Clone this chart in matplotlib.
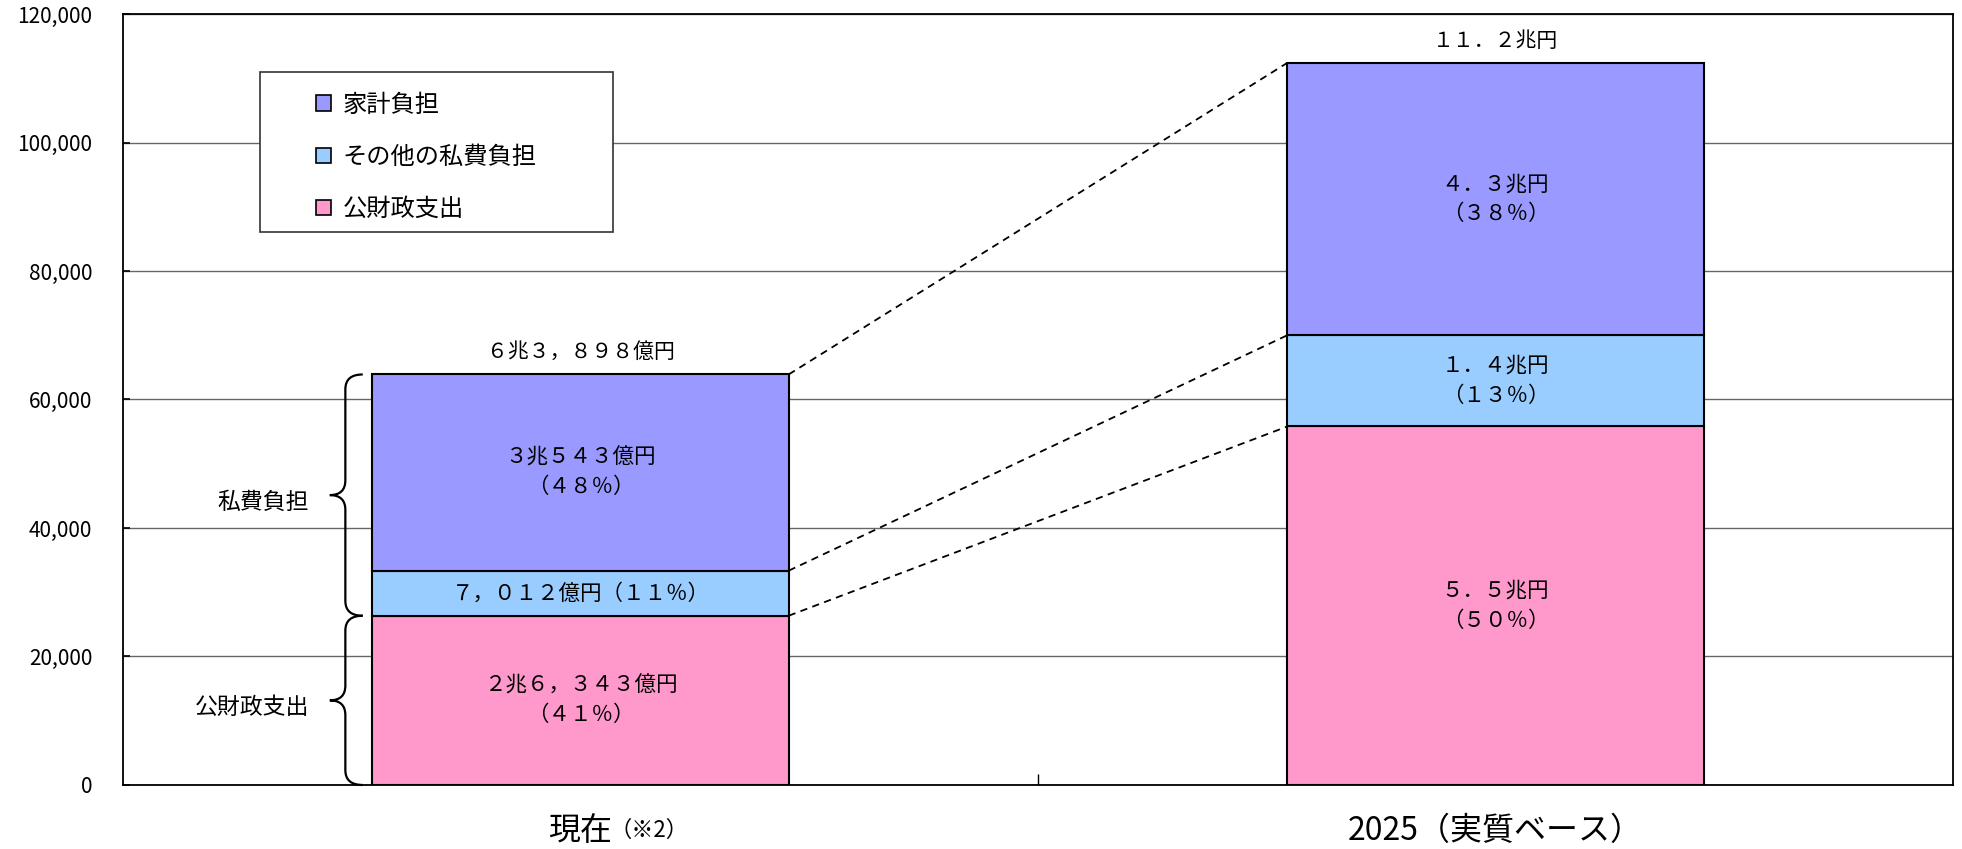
import numpy as np
import matplotlib.pyplot as plt
from matplotlib.patches import Patch, Rectangle, PathPatch
from matplotlib.path import Path

plt.rcParams['font.family'] = ['Noto Sans CJK JP', 'DejaVu Sans']

# data (億円)
categories = ['現在', '2025（実質ベース）']
series = ['公財政支出', 'その他の私費負担', '家計負担']
public = [26343, 55800]
other_private = [7012, 14200]
household = [30543, 42400]
colors = ['#FF99CC', '#99CCFF', '#9999FF']

seg_labels = [
    ['２兆６，３４３億円\n（４１％）', '７，０１２億円（１１％）', '３兆５４３億円\n（４８％）'],
    ['５．５兆円\n（５０％）', '１．４兆円\n（１３％）', '４．３兆円\n（３８％）'],
]
total_labels = ['６兆３，８９８億円', '１１．２兆円']
brace_labels = ['公財政支出', '私費負担']
yticks = np.arange(0, 120001, 20000)

fig = plt.figure(figsize=(19.62, 8.49), dpi=100)
ax = fig.add_axes([0.0627, 0.0754, 0.9327, 0.9081])

x = np.arange(len(categories))
w = 0.455
stack = np.array([public, other_private, household], dtype=float)
bottoms = np.vstack([np.zeros(len(x)), np.cumsum(stack, axis=0)[:-1]])
tops = bottoms[-1] + stack[-1]

for i in range(len(series)):
    ax.bar(x, stack[i], w, bottom=bottoms[i], color=colors[i],
           edgecolor='black', linewidth=1.5, zorder=3)
    for j in range(len(x)):
        ax.text(x[j], bottoms[i][j] + stack[i][j] / 2, seg_labels[j][i],
                ha='center', va='center', fontsize=15.5, linespacing=1.45, zorder=4)

for j in range(len(x)):
    ax.annotate(total_labels[j], (x[j], tops[j]), xytext=(0, 16),
                textcoords='offset points', ha='center', va='center', fontsize=15)

# dashed connectors between the two bars
for b in [tops, bottoms[2], bottoms[1]]:
    ax.plot([x[0] + w / 2, x[1] - w / 2], [b[0], b[1]], color='black',
            ls=(0, (4, 3)), lw=1.3, zorder=2)

# curly braces left of the first bar
def brace(ax, y0, y1, xe, xs, xt, r):
    ym = (y0 + y1) / 2
    verts = [(xe, y1), (xs, y1), (xs, y1 - r),
             (xs, ym + r), (xs, ym), (xt, ym),
             (xs, ym), (xs, ym - r),
             (xs, y0 + r), (xs, y0), (xe, y0)]
    codes = [Path.MOVETO, Path.CURVE3, Path.CURVE3,
             Path.LINETO, Path.CURVE3, Path.CURVE3,
             Path.CURVE3, Path.CURVE3,
             Path.LINETO, Path.CURVE3, Path.CURVE3]
    ax.add_patch(PathPatch(Path(verts, codes), facecolor='none',
                           edgecolor='black', lw=1.6, zorder=3, clip_on=False))
    return ym

left = x[0] - w / 2
spans = [(0, bottoms[1][0]), (bottoms[1][0], tops[0])]
for (y0, y1), lab in zip(spans, brace_labels):
    ym = brace(ax, y0, y1, left - 0.0105, left - 0.0295, left - 0.0465, 2300)
    ax.annotate(lab, (left - 0.069, ym), xytext=(0, -5), textcoords='offset points',
                ha='right', va='center', fontsize=16.5)

# legend box
ax.add_patch(Rectangle((0.0749, 0.717), 0.1929, 0.208, transform=ax.transAxes,
                       facecolor='white', edgecolor='#333333', lw=1.2, zorder=5))
handles = [Patch(facecolor=colors[k], edgecolor='black', linewidth=1.2, label=series[k])
           for k in [2, 1, 0]]
leg = ax.legend(handles=handles, loc='center left', bbox_to_anchor=(0.1055, 0.8145),
                frameon=False, fontsize=17.5, handlelength=0.6, handleheight=0.6,
                handletextpad=0.5, labelspacing=1.08, borderpad=0, borderaxespad=0)
leg.set_zorder(6)

# axes
ax.set_xlim(-0.5, 1.5)
ax.set_ylim(0, 120000)
ax.set_yticks(yticks)
ax.set_yticklabels([f'{v:,}' for v in yticks], fontsize=15)
ax.tick_params(axis='y', direction='in', length=5, width=1.2, pad=22)
ax.set_xticks(x)
ax.set_xticklabels([])
ax.tick_params(axis='x', which='major', length=0)
ax.set_xticks([0.5], minor=True)
ax.tick_params(axis='x', which='minor', direction='in', length=8, width=1)
ax.yaxis.grid(True, color='#666666', lw=1)
ax.set_axisbelow(True)
for s in ax.spines.values():
    s.set_linewidth(1.3)

t0 = ax.annotate(categories[0], xy=(x[0], 0), xycoords=('data', 'axes fraction'),
                 xytext=(0, -33), textcoords='offset points',
                 ha='center', va='center', fontsize=23, annotation_clip=False)
ax.annotate('（※2）', xy=(1, 0.5), xycoords=t0, xytext=(-2, 0),
            textcoords='offset points', ha='left', va='center', fontsize=16)
ax.annotate(categories[1], xy=(x[1], 0), xycoords=('data', 'axes fraction'),
            xytext=(0, -33), textcoords='offset points',
            ha='center', va='center', fontsize=23, annotation_clip=False)

fig.savefig('out.png', dpi=100)
